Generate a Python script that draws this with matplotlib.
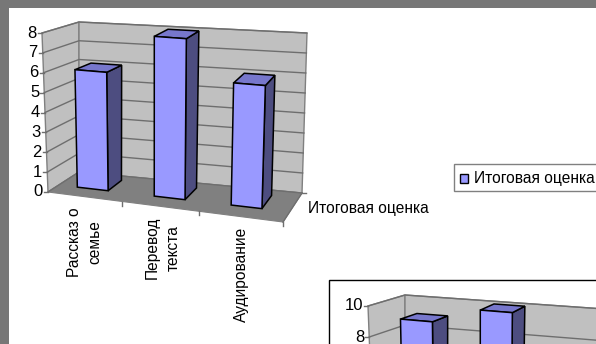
import numpy as np
import matplotlib
matplotlib.use("Agg")
import matplotlib.pyplot as plt
from matplotlib.patches import Polygon, Rectangle

plt.rcParams['font.family'] = ['Liberation Sans', 'DejaVu Sans']

categories = ["Рассказ о\nсемье", "Перевод\nтекста", "Аудирование"]
scores = [6, 8, 6]
ticks = [0, 1, 2, 3, 4, 5, 6, 7, 8]
series_name = "Итоговая оценка"

# the lower chart only shows its first two bars
scores2 = [9, 10]
ticks2 = [8, 10]

FACE = '#9999ff'
SIDE = '#4d4d80'
TOP = '#7777cc'
WALL = '#c0c0c0'
FLOOR = '#808080'
GRID = '#6e6e6e'
FONT = 11.2


def blend(c, s, d):
    # bilinear mix of the corners front-left, back-left, back-right, front-right
    c = np.array(c, dtype=float)
    return (1 - d) * ((1 - s) * c[0] + s * c[3]) + d * ((1 - s) * c[1] + s * c[2])


class Box:
    # oblique box: u goes along the categories, d into the picture, h up
    def __init__(self, floor, roof, slots, hmax):
        self.floor = floor
        self.roof = roof
        self.slots = slots
        self.hmax = hmax

    def pt(self, u, d, h):
        s = u / self.slots
        a = blend(self.floor, s, d)
        b = blend(self.roof, s, d)
        return a + (b - a) * h / self.hmax


def draw_chart(ax, box, values, yticks, gap=0.24, bw=0.4, d0=0.35, d1=0.82):
    fl, bl, br, fr = box.floor
    rfl, rbl, rbr, rfr = box.roof
    ax.add_patch(Polygon([fl, bl, rbl, rfl], fc=WALL, ec=FLOOR, lw=1, zorder=1))
    ax.add_patch(Polygon([bl, br, rbr, rbl], fc=WALL, ec=FLOOR, lw=1, zorder=1))
    ax.add_patch(Polygon([fl, bl, br, fr], fc=FLOOR, ec=FLOOR, lw=0.8, zorder=2))

    for t in yticks:
        a, b, c = box.pt(0, 0, t), box.pt(0, 1, t), box.pt(box.slots, 1, t)
        ax.plot([a[0], b[0], c[0]], [a[1], b[1], c[1]], color=GRID, lw=1, zorder=2)
        ax.plot([a[0] - 4, a[0]], [a[1], a[1]], color=GRID, lw=1, zorder=2)
        ax.text(a[0] - 5, a[1], str(t), ha='right', va='center', fontsize=FONT + 0.8, color='black', zorder=6)

    for i, v in enumerate(values):
        u0, u1 = i + gap, i + gap + bw
        f0, f1 = box.pt(u0, d0, 0), box.pt(u1, d0, 0)
        g0, g1 = box.pt(u0, d0, v), box.pt(u1, d0, v)
        b1, tb1 = box.pt(u1, d1, 0), box.pt(u1, d1, v)
        tb0 = box.pt(u0, d1, v)
        ax.add_patch(Polygon([f1, b1, tb1, g1], fc=SIDE, ec='black', lw=1.1, zorder=4))
        ax.add_patch(Polygon([g0, g1, tb1, tb0], fc=TOP, ec='black', lw=1.1, zorder=4))
        ax.add_patch(Polygon([f0, f1, g1, g0], fc=FACE, ec='black', lw=1.1, zorder=5))


fig = plt.figure(figsize=(5.96, 3.44), dpi=100, facecolor='#777777')
ax = fig.add_axes([0, 0, 1, 1])
ax.set_xlim(0, 596)
ax.set_ylim(344, 0)
ax.axis('off')

ax.add_patch(Rectangle((8.5, 8), 600, 350, fc='white', ec='none', zorder=0))

box1 = Box([(48, 192), (79, 172), (302, 193), (283, 222)],
           [(42, 33), (79, 22), (307, 33), (289, 54)], 3, 8)
draw_chart(ax, box1, scores, ticks)

# category ticks and labels along the front edge of the floor
for u in [0.95, 1.93, 3]:
    p = box1.pt(u, 0, 0)
    ax.plot([p[0], p[0]], [p[1], p[1] + 4], color=GRID, lw=1, zorder=2)
for i, name in enumerate(categories):
    p = box1.pt(i + 0.5, 0, 0)
    ax.text(p[0] - 2.5, p[1] + 10, name, rotation=90, ha='center', va='top', multialignment='center',
            fontsize=FONT, linespacing=1.5, color='black')
ax.plot([283, 302], [222, 193], color=GRID, lw=1, zorder=3)
ax.plot([302, 306], [193, 193], color=GRID, lw=1, zorder=2)
ax.text(308, 208, series_name, ha='left', va='center', fontsize=FONT, color='black')

# legend
ax.add_patch(Rectangle((453.5, 163.5), 160, 27, fc='white', ec='#808080', lw=1, zorder=3))
ax.add_patch(Rectangle((460, 174), 8, 8.5, fc=FACE, ec='black', lw=1, zorder=4))
ax.text(474, 178, series_name, ha='left', va='center', fontsize=FONT, color='black', zorder=4)

# second chart, cut off by the edge of the page
ax.add_patch(Rectangle((328.5, 279.5), 300, 100, fc='white', ec='black', lw=1, zorder=0.5))
box2 = Box([(374, 461), (405, 445), (628, 471), (609, 495)],
           [(368, 306), (405, 295), (633, 311), (615, 327)], 3, 10)
draw_chart(ax, box2, scores2, ticks2)

fig.savefig("out.png", dpi=100, facecolor=fig.get_facecolor())
